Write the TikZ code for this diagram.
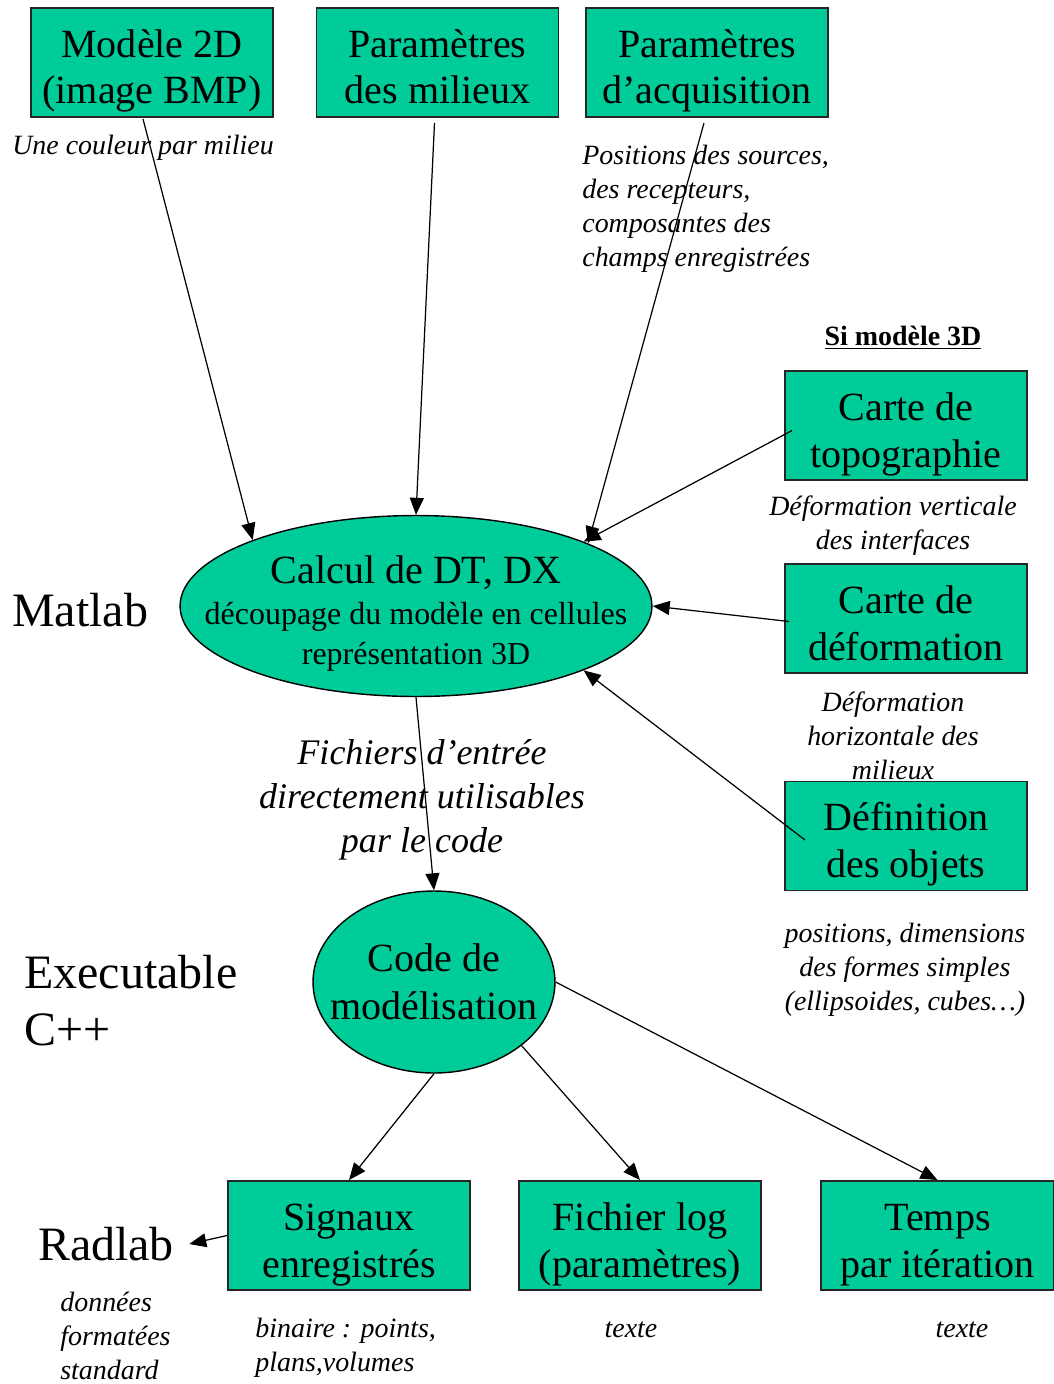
\documentclass[tikz,border=0pt]{standalone}
\usepackage{fontspec}
\setmainfont{Liberation Serif}
\usetikzlibrary{arrows.meta,shapes.geometric,calc}
\definecolor{boxgreen}{HTML}{00CC99}

\begin{document}
\begin{tikzpicture}[x=0.02cm,y=-0.02cm,
  box/.style={draw=black!85,line width=1.1pt,fill=boxgreen,minimum width=4.84cm,minimum height=2.18cm,align=center,inner sep=0pt,
    text height=1.86cm,text depth=0.2cm,font=\fontsize{22.8}{26.7}\selectfont},
  oval/.style={ellipse,draw,line width=0.8pt,fill=boxgreen,inner sep=0pt},
  inside/.style={align=center,inner sep=0pt},
  note/.style={align=center,inner sep=0pt,font=\fontsize{15.9}{19.3}\selectfont\itshape},
  big/.style={align=left,inner sep=0pt,font=\fontsize{27.3}{32.4}\selectfont},
  arr/.style={line width=0.7pt,-{Triangle[length=0.34cm,width=0.28cm]}}]
  \useasboundingbox (0,0) rectangle (1054,1384);
  % inputs
  \node[box] (m2d) at (152,62.5) {Modèle 2D\\(image BMP)};
  \node[box] (pmil) at (437.5,62.5) {Paramètres\\des milieux};
  \node[box] (pacq) at (707,62.5) {Paramètres\\d’acquisition};
  \node[note] (n2d) at (143,148) {Une couleur par milieu};
  \node[note,align=left,anchor=west] (nacq) at (582,209) {Positions des sources,\\des recepteurs,\\composantes des\\champs enregistrées};
  \node[inner sep=0pt,font=\fontsize{15.9}{19.3}\selectfont\bfseries] (si3d) at (903,338) {\underline{Si modèle 3D}};
  \node[box] (topo) at (906,425.5) {Carte de\\topographie};
  \node[note] (ntopo) at (893,526) {Déformation verticale\\des interfaces};
  \node[box] (deform) at (906,618.5) {Carte de\\déformation};
  \node[note] (ndef) at (893,736) {Déformation\\horizontale des\\milieux};
  \node[box] (defobj) at (906,836) {Définition\\des objets};
  \node[note] (nobj) at (905,970) {positions, dimensions\\des formes simples\\(ellipsoides, cubes…)};
  % Matlab stage
  \node[big,anchor=west] (matlab) at (12,610) {Matlab};
  \node[oval,minimum width=9.44cm,minimum height=3.62cm,
    label={[inside,yshift=-0.15cm,font=\fontsize{18.2}{22.5}\selectfont]center:\fontsize{22.8}{24}\selectfont Calcul de DT, DX\\[0.7pt]
      découpage du modèle en cellules\\
      représentation 3D}] (dtdx) at (416,606) {};
  \node[align=center,inner sep=0pt,font=\fontsize{20.5}{25}\selectfont\itshape] (fich) at (422,800)
    {Fichiers d’entrée\\directement utilisables\\par le code};
  % C++ stage
  \node[big,anchor=west] (exe) at (24,1001) {Executable\\C++};
  \node[oval,minimum width=4.84cm,minimum height=3.64cm,
    label={[inside,font=\fontsize{22.8}{27}\selectfont]center:Code de\\modélisation}] (codemod) at (434,982) {};
  % outputs
  \node[box] (sig) at (349,1235.5) {Signaux\\enregistrés};
  \node[box] (flog) at (640,1235.5) {Fichier log\\(paramètres)};
  \node[box,minimum width=4.66cm] (temps) at (937.5,1235.5) {Temps\\par itération};
  \node[big,inner xsep=0.3cm] (radlab) at (106,1244) {Radlab};
  \node[note,align=left,anchor=west] (nrad) at (60,1336) {données\\formatées\\standard};
  \node[note,align=left,anchor=west] (nsig) at (255,1348) {binaire : points,\\plans,volumes};
  \node[note] (nlog) at (631,1330) {texte};
  \node[note] (ntps) at (962,1330) {texte};
  % connectors
  \draw[arr] ($(m2d.south)+(-9,1)$) -- (dtdx.158.6);
  \draw[arr] ($(pmil.south)+(-3,5)$) -- (dtdx.north);
  \draw[arr] ($(pacq.south)+(-3,5)$) -- (dtdx.20.4);
  \draw[arr] ($(topo.west)+(8,5)$) -- (dtdx.21.5);
  \draw[arr] ($(deform.west)+(5,3)$) -- (dtdx.east);
  \draw[arr] ($(defobj.west)+(21,4)$) -- (dtdx.-21.3);
  \draw[arr] (dtdx.south) -- (codemod.north);
  \draw[arr] (codemod.south) -- (sig.north);
  \draw[arr] (codemod.-36.3) -- (flog.north);
  \draw[arr] (codemod.east) -- (temps.north);
  \draw[arr] (sig.west) -- (radlab.east);
\end{tikzpicture}
\end{document}
